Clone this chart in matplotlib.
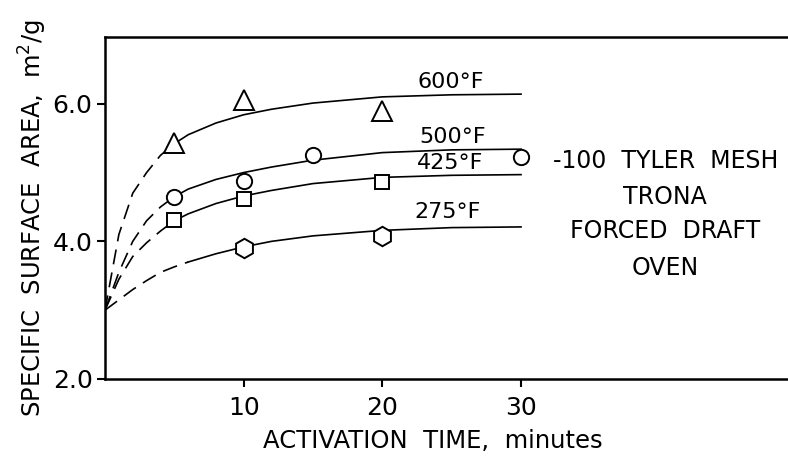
import numpy as np
import matplotlib
matplotlib.use('Agg')
from matplotlib import pyplot as plt

# measured points (minutes, m2/g)
t600 = [5, 10, 20]
s600 = [5.43, 6.06, 5.90]
t500 = [5, 10, 15, 30]
s500 = [4.65, 4.88, 5.26, 5.23]
t425 = [5, 10, 20]
s425 = [4.31, 4.62, 4.87]
t275 = [10, 20]
s275 = [3.91, 4.08]

# curves
curve_t = [0, 1, 2, 3, 4, 5, 6, 8, 10, 12, 15, 20, 25, 30]
curve600 = [3.0, 4.1, 4.7, 5.0, 5.25, 5.42, 5.55, 5.72, 5.84, 5.92, 6.01, 6.10, 6.13, 6.14]
curve500 = [3.0, 3.55, 4.0, 4.3, 4.5, 4.65, 4.76, 4.9, 5.0, 5.08, 5.18, 5.29, 5.33, 5.34]
curve425 = [3.0, 3.45, 3.78, 3.98, 4.15, 4.3, 4.4, 4.55, 4.66, 4.74, 4.84, 4.93, 4.96, 4.97]
curve275 = [3.0, 3.15, 3.3, 3.43, 3.55, 3.63, 3.70, 3.82, 3.92, 4.0, 4.08, 4.16, 4.2, 4.21]
dash_end = [5, 5, 5, 6]   # where the dashed part stops (index into curve_t)

temps = ['600°F', '500°F', '425°F', '275°F']
label_x = [24.9, 25.1, 24.9, 24.7]
label_y = [6.32, 5.51, 5.14, 4.43]

note = ['-100  TYLER  MESH', 'TRONA', 'FORCED  DRAFT', 'OVEN']
note_y = [5.17, 4.65, 4.15, 3.61]

plt.rcParams['font.family'] = 'DejaVu Sans'

fig = plt.figure(figsize=(7.88, 4.59), dpi=100)
ax = fig.add_axes([105/788, 80/459, 683/788, 342/459])
ax.set_xlim(0, 49.25)
ax.set_ylim(2.0, 6.97)

curves = [curve600, curve500, curve425, curve275]
for c, n in zip(curves, dash_end):
    ax.plot(curve_t[:n + 1], c[:n + 1], color='black', lw=1.2,
            dashes=(9, 5), zorder=2)
    ax.plot(curve_t[n:], c[n:], color='black', lw=1.2, zorder=2)

mk = dict(mfc='white', mec='black', mew=1.4, ls='none', zorder=3)
ax.plot(t600, s600, marker='^', ms=15, **mk)
ax.plot(t500, s500, marker='o', ms=11, **mk)
ax.plot(t425, s425, marker='s', ms=10, **mk)
ax.plot(t275, s275, marker='h', ms=14, **mk)

for lab, x, y in zip(temps, label_x, label_y):
    ax.text(x, y, lab, ha='center', va='center', fontsize=16)

for line, y in zip(note, note_y):
    ax.text(40.4, y, line, ha='center', va='center', fontsize=17)

ax.set_xticks([10, 20, 30])
ax.set_xticklabels(['10', '20', '30'])
ax.set_yticks([2.0, 4.0, 6.0])
ax.set_yticklabels(['2.0', '4.0', '6.0'])
ax.tick_params(direction='out', length=6, width=1.5, labelsize=18, pad=3)
ax.tick_params(axis='x', pad=6)

ax.spines['right'].set_visible(False)
for s in ['left', 'bottom', 'top']:
    ax.spines[s].set_linewidth(1.8)

ax.set_xlabel('ACTIVATION  TIME,  minutes', fontsize=17.5)
ax.xaxis.set_label_coords((433 - 105)/683, -62/342)
ax.xaxis.label.set_va('center')
ax.set_ylabel('SPECIFIC  SURFACE  AREA,  m$^2$/g', fontsize=17.5)
ax.yaxis.set_label_coords(-72/683, 0.47)
ax.yaxis.label.set_va('center')

fig.savefig('out.png', dpi=100)
